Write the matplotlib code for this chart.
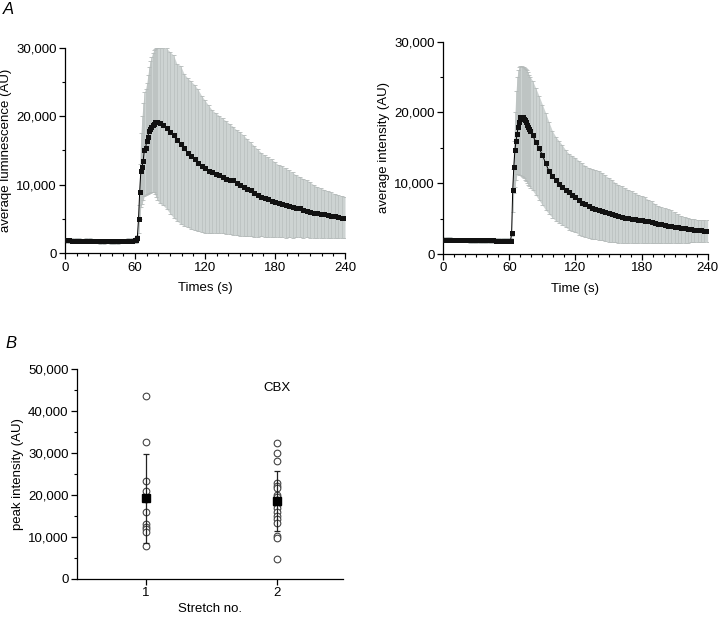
import numpy as np
import matplotlib
matplotlib.use("Agg")
import matplotlib.pyplot as plt
from matplotlib.ticker import MultipleLocator, FuncFormatter

plt.rcParams['font.family'] = ['Liberation Sans', 'DejaVu Sans']

# ---------------- data: panel A (left) ----------------
t_base = list(range(0, 60, 3))          # 0..57
t_rise = list(range(60, 80))            # 60..79
t_tail = list(range(81, 241, 3))        # 81..240
time_s = t_base + t_rise + t_tail

lum_mean = [1900, 1880, 1850, 1850, 1830, 1820, 1850, 1830, 1800, 1800,
            1780, 1790, 1800, 1780, 1770, 1790, 1800, 1800, 1820, 1850,
            1900, 2000, 2300, 5000, 9000, 12000, 12600, 13500, 15100, 15300,
            16400, 17000, 17800, 18200, 18500, 18700, 18900, 19100, 19200, 19100,
            19000, 18700, 18300, 17700, 17200, 16600, 16000, 15300, 14700, 14200,
            13800, 13200, 12700, 12400, 12000, 11800, 11600, 11400, 11100, 10900,
            10750, 10650, 10300, 10000, 9700, 9450, 9200, 8850, 8500, 8250,
            8050, 7850, 7700, 7550, 7350, 7200, 7000, 6850, 6700, 6600,
            6550, 6350, 6200, 6070, 5950, 5850, 5800, 5700, 5600, 5500,
            5400, 5300, 5200, 5100]
lum_upper = [2250, 2250, 2200, 2200, 2200, 2150, 2200, 2200, 2150, 2150,
             2150, 2150, 2150, 2150, 2100, 2150, 2150, 2150, 2200, 2200,
             2250, 2350, 2700, 7000, 13000, 17500, 20000, 22000, 23500, 24000,
             24800, 26000, 27200, 28000, 28700, 29200, 29600, 29800, 29900, 30000,
             30000, 29900, 29900, 29400, 28900, 27600, 27400, 26200, 25600, 25100,
             24600, 23900, 23000, 22300, 21600, 20900, 20500, 20100, 19700, 19300,
             18900, 18500, 18000, 17700, 17200, 16700, 16200, 15700, 15200, 14700,
             14300, 14000, 13700, 13300, 12900, 12700, 12400, 12100, 11800, 11400,
             11200, 10900, 10700, 10400, 10000, 9700, 9500, 9300, 9100, 8900,
             8700, 8500, 8400, 8200]
lum_lower = [1500, 1500, 1480, 1480, 1450, 1450, 1480, 1450, 1430, 1430,
             1400, 1420, 1430, 1400, 1400, 1420, 1430, 1430, 1450, 1480,
             1500, 1550, 1800, 3000, 5000, 6800, 7200, 7800, 8300, 8500,
             8600, 8700, 8750, 8800, 8900, 9000, 8900, 8600, 8200, 7800,
             7300, 7000, 6500, 5800, 5200, 4700, 4300, 4000, 3800, 3500,
             3350, 3200, 3100, 2950, 2900, 2900, 2950, 2950, 2900, 2850,
             2800, 2700, 2600, 2550, 2500, 2450, 2450, 2400, 2400, 2450,
             2400, 2400, 2350, 2400, 2350, 2400, 2300, 2350, 2300, 2350,
             2400, 2300, 2350, 2300, 2300, 2250, 2300, 2300, 2250, 2200,
             2250, 2200, 2250, 2200]

# ---------------- data: panel A (right) ----------------
int_mean = [2000, 2000, 1990, 1980, 1980, 1970, 1960, 1960, 1950, 1950,
            1940, 1940, 1930, 1930, 1920, 1920, 1910, 1910, 1900, 1900,
            1900, 1900, 2900, 9000, 12300, 14700, 15900, 17000, 18000, 18700,
            19300, 19400, 19300, 19100, 18900, 18600, 18300, 17950, 17650, 17350,
            16800, 15850, 14950, 13950, 12800, 11700, 11050, 10400, 9900, 9450,
            9000, 8700, 8400, 8000, 7600, 7250, 7000, 6750, 6550, 6400,
            6250, 6100, 5950, 5800, 5650, 5500, 5350, 5250, 5150, 5050,
            5000, 4900, 4850, 4750, 4650, 4600, 4500, 4400, 4300, 4200,
            4100, 4000, 3950, 3850, 3800, 3700, 3650, 3550, 3500, 3450,
            3400, 3350, 3300, 3250]
int_upper = [2350, 2350, 2340, 2330, 2330, 2320, 2310, 2310, 2300, 2300,
             2290, 2290, 2280, 2280, 2270, 2270, 2260, 2260, 2250, 2250,
             2200, 2200, 3200, 12000, 16000, 20000, 23000, 25000, 26000, 26400,
             26500, 26500, 26400, 26400, 26300, 26200, 26000, 25700, 25300, 25000,
             24500, 23400, 22300, 21100, 19900, 18600, 17400, 16600, 16000, 15400,
             14700, 14200, 13900, 13600, 13200, 12800, 12500, 12200, 12000, 11900,
             11800, 11500, 11100, 10800, 10500, 10100, 9800, 9600, 9300, 9100,
             8900, 8600, 8400, 8200, 8000, 7700, 7500, 7100, 6800, 6600,
             6450, 6300, 6150, 5900, 5600, 5400, 5250, 5100, 5000, 4900,
             4850, 4800, 4800, 4750]
int_lower = [1670, 1670, 1660, 1650, 1650, 1640, 1630, 1630, 1620, 1620,
             1610, 1610, 1600, 1600, 1590, 1590, 1580, 1580, 1570, 1570,
             1650, 1650, 2600, 6000, 8600, 9500, 10500, 11300, 11300, 11200,
             11100, 11000, 10900, 10700, 10500, 10300, 10000, 9800, 9600, 9300,
             9000, 8300, 7600, 6900, 6200, 5650, 5150, 4700, 4400, 4100,
             3800, 3450, 3250, 3050, 2750, 2550, 2400, 2250, 2150, 2100,
             2050, 1950, 1850, 1750, 1700, 1650, 1600, 1600, 1600, 1550,
             1600, 1550, 1550, 1600, 1550, 1550, 1500, 1550, 1550, 1500,
             1550, 1550, 1550, 1600, 1550, 1600, 1600, 1600, 1650, 1650,
             1700, 1700, 1750, 1750]

# ---------------- data: panel B ----------------
stretch_no = [1, 2]
stretch1_peaks = [43500, 32500, 23300, 21000, 19000, 16000, 13000, 12300, 11800, 11200, 7800]
stretch2_peaks = [32400, 29900, 28200, 22800, 22200, 21600, 20000, 19500, 18700, 17600,
                  16800, 16000, 15000, 14200, 13300, 10200, 9700, 4800]

thousands = FuncFormatter(lambda v, p: f"{int(v):,}")
FS = 9.5

fig = plt.figure(figsize=(7.2, 6.17), dpi=100)

BAND = '#cdd3d2'
BARC = '#b3b9b8'
CAPC = '#9ea4a3'


def style_axes(ax):
    for s in ('top', 'right'):
        ax.spines[s].set_visible(False)
    for s in ('left', 'bottom'):
        ax.spines[s].set_linewidth(0.9)
    ax.tick_params(which='major', direction='out', length=4, width=0.9, labelsize=FS, pad=2)
    ax.tick_params(which='minor', direction='out', length=2, width=0.8)
    ax.yaxis.set_major_formatter(thousands)


def trace_panel(rect, t, mean, upper, lower, ylabel, xlabel):
    ax = fig.add_axes(rect)
    t = np.asarray(t, float)
    mean = np.asarray(mean, float)
    upper = np.asarray(upper, float)
    lower = np.asarray(lower, float)
    ax.fill_between(t, lower, upper, color=BAND, lw=0, zorder=1)
    _, caps, bars = ax.errorbar(t, mean, yerr=[mean - lower, upper - mean], fmt='none',
                                ecolor=BARC, elinewidth=0.4, capsize=1.6, capthick=0.6,
                                zorder=2)
    for c in caps:
        c.set_color(CAPC)
    ax.plot(t, mean, '-', color='k', lw=0.7, zorder=3)
    ax.plot(t, mean, 's', color='#111111', ms=3.6, mew=0, zorder=4)
    ax.set_xlim(0, 240)
    ax.set_ylim(0, 30000)
    ax.xaxis.set_major_locator(MultipleLocator(60))
    ax.xaxis.set_minor_locator(MultipleLocator(10))
    ax.yaxis.set_major_locator(MultipleLocator(10000))
    ax.yaxis.set_minor_locator(MultipleLocator(5000))
    style_axes(ax)
    ax.set_ylabel(ylabel, fontsize=FS, labelpad=3)
    ax.set_xlabel(xlabel, fontsize=FS, labelpad=6)
    return ax


axL = trace_panel([0.0903, 0.5895, 0.3889, 0.3332], time_s, lum_mean, lum_upper, lum_lower,
                  'averaqe luminescence (AU)', 'Times (s)')
axR = trace_panel([0.6157, 0.5883, 0.3672, 0.3441], time_s, int_mean, int_upper, int_lower,
                  'average intensity (AU)', 'Time (s)')

# ---------------- panel B ----------------
axB = fig.add_axes([0.1069, 0.0616, 0.3694, 0.3404])
for x, vals in zip(stretch_no, [stretch1_peaks, stretch2_peaks]):
    vals = np.asarray(vals, float)
    axB.plot(np.full(vals.size, x), vals, 'o', ms=4.8, mfc='white', mec='#444444', mew=0.8, zorder=2)
    m = vals.mean()
    sd = vals.std(ddof=1)
    axB.errorbar([x], [m], yerr=[sd], fmt='s', color='black', ms=5.5, ecolor='#222222',
                 elinewidth=0.9, capsize=2.5, capthick=0.9, zorder=3)
axB.set_xlim(0.473, 2.504)
axB.set_ylim(0, 50000)
axB.set_xticks(stretch_no)
axB.yaxis.set_major_locator(MultipleLocator(10000))
axB.yaxis.set_minor_locator(MultipleLocator(5000))
style_axes(axB)
axB.set_ylabel('peak intensity (AU)', fontsize=FS, labelpad=3)
axB.set_xlabel('Stretch no.', fontsize=FS, labelpad=3)
axB.text(2.0, 45500, 'CBX', fontsize=FS, ha='center', va='center')

fig.text(0.004, 0.997, 'A', fontsize=12, style='italic', ha='left', va='top')
fig.text(0.007, 0.456, 'B', fontsize=12, style='italic', ha='left', va='top')

fig.savefig('out.png', dpi=100)
